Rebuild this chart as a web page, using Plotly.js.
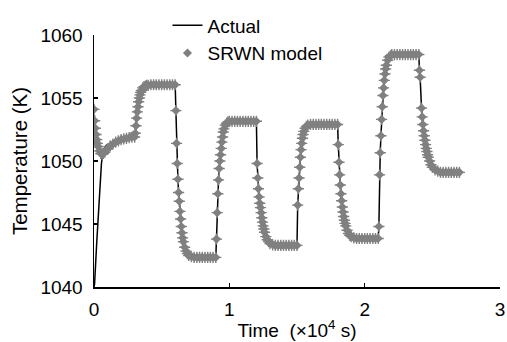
<!DOCTYPE html>
<html>
<head>
<meta charset="utf-8">
<script src="https://cdn.plot.ly/plotly-3.0.1.min.js"></script>
<style>html,body{margin:0;padding:0;background:#fff;}#chart{width:507px;height:342px;}</style>
</head>
<body>
<div id="chart"></div>
<script>
// Time in units of 10^4 s
const time = [
  0, 0.005, 0.01, 0.015, 0.02, 0.025, 0.03, 0.04, 0.05, 0.06, 0.07, 0.08, 0.1, 0.12, 0.14, 0.16, 0.18, 0.2, 0.22, 0.24, 0.26, 0.28, 0.3,
  0.305, 0.31, 0.315, 0.32, 0.325, 0.33, 0.335, 0.34, 0.345, 0.35, 0.36, 0.37, 0.38, 0.39, 0.4, 0.42,
  0.44, 0.46, 0.48, 0.5, 0.52, 0.54, 0.56, 0.58, 0.6,
  0.605, 0.61, 0.615, 0.62, 0.625, 0.63, 0.635, 0.64, 0.645, 0.65, 0.655, 0.66, 0.67, 0.68, 0.69, 0.7, 0.72,
  0.74, 0.76, 0.78, 0.8, 0.82, 0.84, 0.86, 0.88, 0.9,
  0.905, 0.91, 0.915, 0.92, 0.925, 0.93, 0.935, 0.94, 0.945, 0.95, 0.955, 0.96, 0.97, 0.98, 0.99, 1.0,
  1.02, 1.04, 1.06, 1.08, 1.1, 1.12, 1.14, 1.16, 1.18, 1.2,
  1.205, 1.21, 1.215, 1.22, 1.225, 1.23, 1.235, 1.24, 1.245, 1.25, 1.255, 1.26, 1.27, 1.28, 1.29, 1.3, 1.32,
  1.34, 1.36, 1.38, 1.4, 1.42, 1.44, 1.46, 1.48, 1.5,
  1.505, 1.51, 1.515, 1.52, 1.525, 1.53, 1.535, 1.54, 1.545, 1.55, 1.56, 1.57, 1.58,
  1.6, 1.62, 1.64, 1.66, 1.68, 1.7, 1.72, 1.74, 1.76, 1.78, 1.8,
  1.805, 1.81, 1.815, 1.82, 1.825, 1.83, 1.835, 1.84, 1.845, 1.85, 1.855, 1.86, 1.87, 1.88, 1.89, 1.9, 1.92,
  1.94, 1.96, 1.98, 2.0, 2.02, 2.04, 2.06, 2.08, 2.1,
  2.105, 2.11, 2.115, 2.12, 2.125, 2.13, 2.135, 2.14, 2.145, 2.15, 2.155, 2.16, 2.17, 2.18, 2.19, 2.2,
  2.22, 2.24, 2.26, 2.28, 2.3, 2.32, 2.34, 2.36, 2.38, 2.4,
  2.405, 2.41, 2.42, 2.425, 2.43, 2.435, 2.44, 2.445, 2.45, 2.455, 2.46, 2.465, 2.47, 2.48, 2.49, 2.5, 2.52, 2.54,
  2.56, 2.58, 2.6, 2.62, 2.64, 2.66, 2.68, 2.7
];

// SRWN model output (K)
const srwnModel = [
  1054.1, 1053.2, 1052.6, 1052.1, 1051.7, 1051.4, 1051.15, 1050.8, 1050.6, 1050.55, 1050.6, 1050.7, 1050.95, 1051.2, 1051.35, 1051.5, 1051.6, 1051.7, 1051.75, 1051.8, 1051.85, 1051.9, 1051.9,
  1052.2, 1052.8, 1053.4, 1053.9, 1054.3, 1054.7, 1055.0, 1055.25, 1055.45, 1055.6, 1055.8, 1055.9, 1055.95, 1056.0, 1056.0, 1056.05,
  1056.05, 1056.05, 1056.05, 1056.05, 1056.05, 1056.05, 1056.05, 1056.05, 1056.05,
  1054.0, 1051.4, 1049.8, 1048.55, 1047.5, 1046.8, 1046.0, 1045.4, 1044.8, 1044.3, 1043.9, 1043.6, 1043.15, 1042.85, 1042.65, 1042.5, 1042.4,
  1042.35, 1042.35, 1042.35, 1042.35, 1042.35, 1042.35, 1042.35, 1042.35, 1042.35,
  1043.8, 1045.9, 1047.4, 1048.5, 1049.4, 1050.0, 1050.5, 1051.0, 1051.5, 1051.9, 1052.3, 1052.55, 1052.85, 1053.0, 1053.1, 1053.15,
  1053.15, 1053.15, 1053.15, 1053.15, 1053.15, 1053.15, 1053.15, 1053.15, 1053.15, 1053.15,
  1049.8, 1048.65, 1047.8, 1047.15, 1046.65, 1046.3, 1045.9, 1045.5, 1045.15, 1044.85, 1044.6, 1044.35, 1044.0, 1043.75, 1043.6, 1043.45, 1043.35,
  1043.3, 1043.3, 1043.3, 1043.3, 1043.3, 1043.3, 1043.3, 1043.3, 1043.3,
  1046.5, 1047.8, 1048.65, 1049.5, 1050.3, 1050.9, 1051.4, 1051.8, 1052.1, 1052.35, 1052.6, 1052.75, 1052.85,
  1052.9, 1052.9, 1052.9, 1052.9, 1052.9, 1052.9, 1052.9, 1052.9, 1052.9, 1052.9, 1052.9,
  1051.3, 1049.9, 1048.9, 1048.1, 1047.4, 1046.85, 1046.35, 1045.95, 1045.6, 1045.3, 1045.05, 1044.85, 1044.5, 1044.25, 1044.1, 1044.0, 1043.9,
  1043.85, 1043.85, 1043.85, 1043.85, 1043.85, 1043.85, 1043.85, 1043.85, 1043.85,
  1044.8, 1048.9, 1050.65, 1052.0, 1053.3, 1054.3, 1055.2, 1055.8, 1056.4, 1056.9, 1057.3, 1057.6, 1058.0, 1058.25, 1058.35, 1058.45,
  1058.45, 1058.45, 1058.45, 1058.45, 1058.45, 1058.45, 1058.45, 1058.45, 1058.45, 1058.45,
  1057.2, 1056.65, 1054.2, 1053.5, 1052.9, 1052.4, 1052.0, 1051.65, 1051.3, 1051.0, 1050.75, 1050.5, 1050.3, 1050.0, 1049.7, 1049.5, 1049.3, 1049.2,
  1049.1, 1049.1, 1049.1, 1049.1, 1049.1, 1049.1, 1049.1, 1049.1
];

// Actual measurement: its own start-up transient, then it follows the same record
const actualStartTime = [0, 0.004, 0.02, 0.04, 0.055, 0.065, 0.075, 0.09, 0.11, 0.13, 0.155];
const actualStartValues = [1040, 1040.2, 1043.5, 1047.3, 1049.8, 1050.6, 1051.0, 1051.25, 1051.35, 1051.45, 1051.55];
const actualJoinTime = 0.18;

const xTickVals = [0, 1, 2, 3];
const xTickText = ['0', '1', '2', '3'];
const yTickVals = [1040, 1045, 1050, 1055, 1060];
const yTickText = ['1040', '1045', '1050', '1055', '1060'];

const actualTime = actualStartTime.slice();
const actualValues = actualStartValues.slice();
time.forEach((t, i) => { if (t >= actualJoinTime) { actualTime.push(t); actualValues.push(srwnModel[i]); } });

const font = 'Liberation Sans, Arial, sans-serif';
const grey = '#808080';

const traces = [
  {
    x: actualTime, y: actualValues, type: 'scatter', mode: 'lines', name: 'Actual',
    line: {color: '#000000', width: 1.5}
  },
  {
    x: time, y: srwnModel, type: 'scatter', mode: 'markers', name: 'SRWN model',
    marker: {color: grey, symbol: 'diamond', size: 7, line: {width: 0}}
  },
  {
    x: time, y: srwnModel, type: 'scatter', mode: 'markers', name: 'SRWN model',
    marker: {color: grey, symbol: 'cross-thin', size: 8, line: {width: 1.4, color: grey}},
    showlegend: false
  }
];

const layout = {
  width: 507, height: 342,
  margin: {l: 94, r: 7, t: 21, b: 55},
  paper_bgcolor: '#ffffff', plot_bgcolor: '#ffffff',
  font: {family: font, size: 19, color: '#000000'},
  showlegend: true,
  legend: {
    x: 0.181, y: 1.113, xanchor: 'left', yanchor: 'top',
    bgcolor: 'rgba(0,0,0,0)', font: {family: font, size: 19, color: '#000'},
    traceorder: 'normal'
  },
  xaxis: {
    range: [0, 3], tickmode: 'array', tickvals: xTickVals, ticktext: xTickText,
    ticks: 'inside', ticklen: 4, tickwidth: 1.5, tickcolor: '#000',
    showline: true, linecolor: '#000', linewidth: 1.5, mirror: false,
    showgrid: false, zeroline: false, ticklabelstandoff: 5,
    tickfont: {family: font, size: 19, color: '#000'},
    title: {text: 'Time\u00a0 (×10<sup>4</sup> s)', font: {family: font, size: 19, color: '#000'}, standoff: 4}
  },
  yaxis: {
    range: [1040, 1060], tickmode: 'array', tickvals: yTickVals, ticktext: yTickText,
    ticks: 'inside', ticklen: 4, tickwidth: 1.5, tickcolor: '#000',
    showline: true, linecolor: '#000', linewidth: 1.5, mirror: false,
    showgrid: false, zeroline: false, ticklabelstandoff: 6,
    tickfont: {family: font, size: 19, color: '#000'},
    title: {text: 'Temperature (K)', font: {family: font, size: 20.5, color: '#000'}, standoff: 7}
  }
};

Plotly.newPlot('chart', traces, layout, {staticPlot: true, displayModeBar: false});
</script>
</body>
</html>
